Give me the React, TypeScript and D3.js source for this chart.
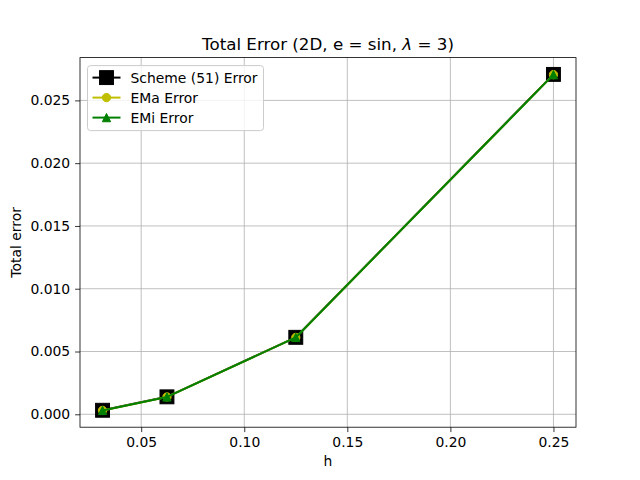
import React, { useRef, useEffect } from 'react';
import * as d3 from 'd3';

// step sizes and errors
const hValues = [0.03125, 0.0625, 0.125, 0.25];
const schemeError = [0.00032, 0.00139, 0.00613, 0.02707];
const emaError = [0.00031, 0.00138, 0.00612, 0.02705];
const emiError = [0.00031, 0.00138, 0.00612, 0.02705];
const xTicks = [0.05, 0.1, 0.15, 0.2, 0.25];
const yTicks = [0, 0.005, 0.01, 0.015, 0.02, 0.025];

const series = [
  { name: 'Scheme (51) Error', values: schemeError, color: '#000000', marker: 'square' },
  { name: 'EMa Error', values: emaError, color: '#bfbf00', marker: 'circle' },
  { name: 'EMi Error', values: emiError, color: '#008000', marker: 'triangle' },
];

const FONT = 'DejaVu Sans, sans-serif';

export default function App() {
  const ref = useRef<SVGSVGElement>(null);

  useEffect(() => {
    const svg = d3.select(ref.current);
    svg.selectAll('*').remove();

    const width = 640;
    const height = 480;
    const margin = { top: 57.6, right: 64, bottom: 52.8, left: 80 };
    const w = width - margin.left - margin.right;
    const h = height - margin.top - margin.bottom;

    const allY = series.flatMap(s => s.values);
    const xMin = d3.min(hValues)!, xMax = d3.max(hValues)!;
    const yMin = d3.min(allY)!, yMax = d3.max(allY)!;
    const xPad = (xMax - xMin) * 0.05;
    const yPad = (yMax - yMin) * 0.05;

    const x = d3.scaleLinear().domain([xMin - xPad, xMax + xPad]).range([0, w]);
    const y = d3.scaleLinear().domain([yMin - yPad, yMax + yPad]).range([h, 0]);

    svg.append('rect').attr('width', width).attr('height', height).attr('fill', '#fff');

    const g = svg.append('g').attr('transform', `translate(${margin.left},${margin.top})`);

    // grid
    g.append('g')
      .selectAll('line')
      .data(xTicks)
      .join('line')
      .attr('x1', d => x(d)).attr('x2', d => x(d))
      .attr('y1', 0).attr('y2', h)
      .attr('stroke', '#b0b0b0').attr('stroke-width', 0.8);
    g.append('g')
      .selectAll('line')
      .data(yTicks)
      .join('line')
      .attr('y1', d => y(d)).attr('y2', d => y(d))
      .attr('x1', 0).attr('x2', w)
      .attr('stroke', '#b0b0b0').attr('stroke-width', 0.8);

    // axes
    const xAxis = g.append('g')
      .attr('transform', `translate(0,${h})`)
      .call(d3.axisBottom(x).tickValues(xTicks).tickFormat(d3.format('.2f')).tickSize(4.9).tickPadding(4.9));
    const yAxis = g.append('g')
      .call(d3.axisLeft(y).tickValues(yTicks).tickFormat(d3.format('.3f')).tickSize(4.9).tickPadding(4.9));
    [xAxis, yAxis].forEach(a => {
      a.select('.domain').remove();
      a.selectAll('line').attr('stroke', '#000').attr('stroke-width', 0.8);
      a.selectAll('text').attr('font-family', FONT).attr('font-size', 13.9).attr('fill', '#000');
    });

    g.append('rect')
      .attr('width', w).attr('height', h)
      .attr('fill', 'none').attr('stroke', '#000').attr('stroke-width', 0.8);

    // lines and markers
    const line = d3.line<number>()
      .x((_, i) => x(hValues[i]))
      .y(d => y(d));

    const drawMarker = (sel: any, kind: string, color: string, size: number) => {
      if (kind === 'square') {
        sel.append('rect')
          .attr('x', -size / 2).attr('y', -size / 2)
          .attr('width', size).attr('height', size)
          .attr('fill', color).attr('stroke', color).attr('stroke-width', 1);
      } else if (kind === 'circle') {
        sel.append('circle').attr('r', size / 2)
          .attr('fill', color).attr('stroke', color).attr('stroke-width', 1);
      } else {
        const r = size / 2;
        sel.append('path')
          .attr('d', `M0,${-r}L${r},${r}L${-r},${r}Z`)
          .attr('fill', color).attr('stroke', color).attr('stroke-width', 1);
      }
    };

    series.forEach(s => {
      g.append('path')
        .datum(s.values)
        .attr('fill', 'none')
        .attr('stroke', s.color)
        .attr('stroke-width', 2)
        .attr('stroke-linejoin', 'round')
        .attr('d', line);
      const size = s.marker === 'square' ? 13.9 : 8.3;
      s.values.forEach((v, i) => {
        const m = g.append('g').attr('transform', `translate(${x(hValues[i])},${y(v)})`);
        drawMarker(m, s.marker, s.color, size);
      });
    });

    // title
    const title = svg.append('text')
      .attr('x', margin.left + w / 2).attr('y', margin.top - 8)
      .attr('text-anchor', 'middle')
      .attr('font-family', FONT).attr('font-size', 16.7).attr('fill', '#000');
    title.append('tspan').text('Total Error (2D, e = sin, ');
    title.append('tspan').attr('font-style', 'italic').text('λ');
    title.append('tspan').text(' = 3)');

    // axis labels
    svg.append('text')
      .attr('x', margin.left + w / 2).attr('y', 466)
      .attr('text-anchor', 'middle')
      .attr('font-family', FONT).attr('font-size', 13.9).text('h');
    svg.append('text')
      .attr('transform', `translate(21,${margin.top + h / 2}) rotate(-90)`)
      .attr('text-anchor', 'middle')
      .attr('font-family', FONT).attr('font-size', 13.9).text('Total error');

    // legend
    const lg = g.append('g').attr('transform', 'translate(7.5,8)');
    lg.append('rect')
      .attr('width', 176).attr('height', 65).attr('rx', 3)
      .attr('fill', '#fff').attr('fill-opacity', 0.8)
      .attr('stroke', '#cccccc').attr('stroke-width', 1);
    series.forEach((s, i) => {
      const row = lg.append('g').attr('transform', `translate(0,${12 + i * 20})`);
      row.append('line')
        .attr('x1', 5).attr('x2', 33)
        .attr('stroke', s.color).attr('stroke-width', 2);
      const m = row.append('g').attr('transform', 'translate(19,0)');
      drawMarker(m, s.marker, s.color, s.marker === 'square' ? 13.9 : 8.3);
      row.append('text')
        .attr('x', 43).attr('y', 5)
        .attr('font-family', FONT).attr('font-size', 13.9).text(s.name);
    });
  }, []);

  return <svg ref={ref} width={640} height={480} style={{ display: 'block', margin: -8 }} />;
}
